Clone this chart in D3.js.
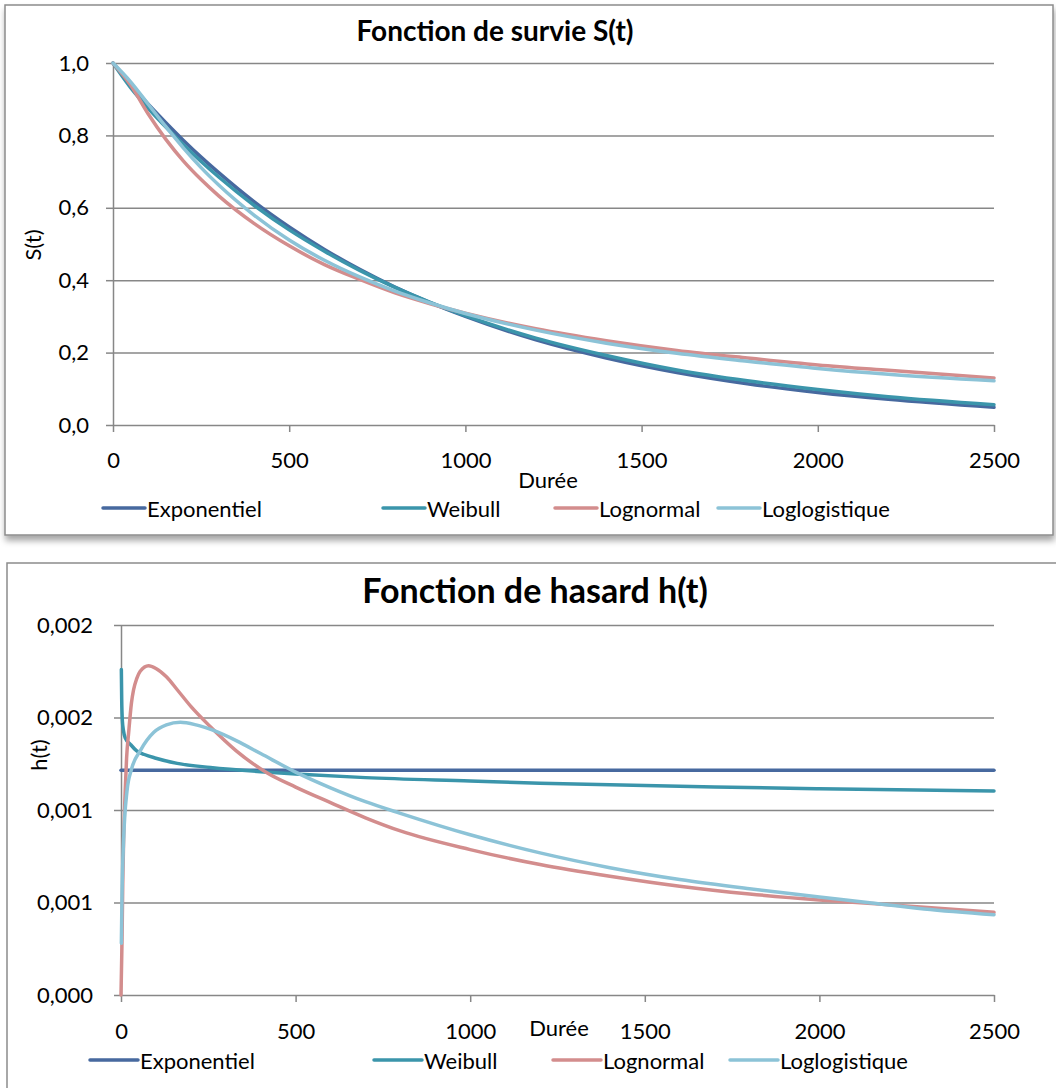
<!DOCTYPE html>
<html>
<head>
<meta charset="utf-8">
<script src="https://cdn.jsdelivr.net/npm/d3@7"></script>
<style>
  body { margin: 0; background: #fff; }
  svg text { font-family: Lato, "Open Sans", sans-serif; fill: #000; }
</style>
</head>
<body>
<div id="chart"></div>
<script>
// Noms des séries et couleurs
const seriesNames = ['Exponentiel', 'Weibull', 'Lognormal', 'Loglogistique'];
const seriesColors = ['#47699f', '#3b95ab', '#d38d8d', '#8cc3d7'];

// Fonction de survie S(t)
const survT = [0, 50, 100, 150, 200, 250, 300, 400, 500, 600, 700, 800, 900, 1000, 1200, 1400, 1600, 1800, 2000, 2200, 2500];
const survExpo = [1.000, 0.941, 0.886, 0.835, 0.786, 0.740, 0.697, 0.617, 0.547, 0.485, 0.430, 0.381, 0.338, 0.300, 0.235, 0.185, 0.145, 0.114, 0.090, 0.071, 0.049];
const survWeibull = [1.000, 0.932, 0.875, 0.823, 0.774, 0.728, 0.685, 0.607, 0.539, 0.480, 0.427, 0.380, 0.339, 0.302, 0.240, 0.192, 0.152, 0.122, 0.098, 0.078, 0.056];
const survLognormal = [1.000, 0.939, 0.859, 0.789, 0.729, 0.678, 0.633, 0.557, 0.495, 0.443, 0.402, 0.365, 0.335, 0.309, 0.266, 0.233, 0.206, 0.185, 0.166, 0.151, 0.130];
const survLoglog = [1.000, 0.948, 0.886, 0.824, 0.765, 0.711, 0.663, 0.580, 0.511, 0.455, 0.409, 0.370, 0.337, 0.308, 0.262, 0.226, 0.198, 0.176, 0.156, 0.140, 0.122];

// Fonction de hasard h(t) : paires [t, h]
const hazExpo = [[0, 0.001215], [500, 0.001215], [1000, 0.001215], [1500, 0.001215], [2000, 0.001215], [2500, 0.001215]];
const hazWeibull = [[1, 0.00176], [2, 0.00160], [4, 0.00148], [7, 0.00143], [12, 0.00139], [27, 0.001355], [45, 0.00132],
  [67, 0.00130], [100, 0.00128], [161, 0.001252], [256, 0.00123], [400, 0.001207], [500, 0.001195], [700, 0.001175],
  [1000, 0.001157], [1200, 0.001145], [1700, 0.001124], [2000, 0.001115], [2500, 0.001103]];
const hazLognormal = [[0, 0], [3, 0.0003], [5, 0.0006], [7.5, 0.00084], [12, 0.0011], [16, 0.00128], [22, 0.00142],
  [30, 0.00158], [36, 0.00165], [45, 0.00171], [55, 0.00175], [79, 0.00178], [100, 0.001765], [130, 0.00172],
  [161, 0.00165], [200, 0.00156], [256, 0.00145], [330, 0.00132], [419, 0.0012], [500, 0.001124], [600, 0.00104],
  [700, 0.000958], [800, 0.000887], [1000, 0.000786], [1200, 0.000705], [1400, 0.000642], [1600, 0.000588],
  [1800, 0.000546], [2000, 0.000514], [2150, 0.000495], [2300, 0.000474], [2500, 0.000447]];
const hazLoglog = [[1, 0.00028], [3, 0.00055], [7.5, 0.00084], [17, 0.0011], [30, 0.00122], [55, 0.00132], [94, 0.00142],
  [130, 0.00146], [170, 0.001474], [215, 0.00146], [265, 0.00143], [330, 0.001375], [400, 0.001305], [500, 0.001205],
  [600, 0.00112], [700, 0.001045], [800, 0.000982], [1000, 0.000866], [1200, 0.000768], [1400, 0.000688],
  [1600, 0.000624], [1800, 0.000574], [2000, 0.00053], [2150, 0.000497], [2300, 0.000465], [2500, 0.000434]];

// Graduations
const xTicks = [0, 500, 1000, 1500, 2000, 2500];
const xTickLabels = ['0', '500', '1000', '1500', '2000', '2500'];
const survYTicks = [0, 0.2, 0.4, 0.6, 0.8, 1.0];
const survYLabels = ['0,0', '0,2', '0,4', '0,6', '0,8', '1,0'];
const hazYTicks = [0, 0.0005, 0.001, 0.0015, 0.002];
const hazYLabels = ['0,000', '0,001', '0,001', '0,002', '0,002'];

const svg = d3.select('#chart')
    .append('svg')
    .attr('width', 1056)
    .attr('height', 1088);

const defs = svg.append('defs');
const shadow = defs.append('filter').attr('id', 'shadow')
    .attr('x', '-5%').attr('y', '-5%').attr('width', '110%').attr('height', '115%');
shadow.append('feDropShadow')
    .attr('dx', 1).attr('dy', 5).attr('stdDeviation', 3)
    .attr('flood-color', '#000').attr('flood-opacity', 0.35);

const gridColor = '#878787';

function drawPanel(p) {
    // cadre
    svg.append('rect')
        .attr('x', p.frame[0]).attr('y', p.frame[1])
        .attr('width', p.frame[2]).attr('height', p.frame[3])
        .attr('fill', '#fff').attr('stroke', '#8c8c8c').attr('stroke-width', 1.5)
        .attr('filter', p.shadow ? 'url(#shadow)' : null);

    const x = d3.scaleLinear().domain([0, 2500]).range([p.x0, p.x1]);
    const y = d3.scaleLinear().domain(p.yDomain).range([p.yBot, p.yTop]);

    // grille horizontale
    svg.append('g')
        .attr('transform', `translate(${p.x0},0)`)
        .call(d3.axisLeft(y).tickValues(p.yTicks.slice(1)).tickSize(-(p.x1 - p.x0)).tickFormat(''))
        .call(g => g.select('.domain').remove())
        .call(g => g.selectAll('line').attr('stroke', gridColor).attr('stroke-width', 1.5));

    // axe X
    svg.append('g')
        .attr('transform', `translate(0,${p.yBot})`)
        .call(d3.axisBottom(x).tickValues(xTicks).tickSize(7).tickSizeOuter(0).tickPadding(p.xPad)
            .tickFormat((d, i) => xTickLabels[i]))
        .call(g => g.select('.domain').attr('stroke', gridColor).attr('stroke-width', 1.5))
        .call(g => g.selectAll('line').attr('stroke', gridColor).attr('stroke-width', 1.5))
        .call(g => g.selectAll('text').attr('font-size', p.fs).attr('font-family', 'Lato, sans-serif'));

    // axe Y
    svg.append('g')
        .attr('transform', `translate(${p.x0},0)`)
        .call(d3.axisLeft(y).tickValues(p.yTicks).tickSize(7).tickSizeOuter(0).tickPadding(p.yPad)
            .tickFormat((d, i) => p.yLabels[i]))
        .call(g => g.select('.domain').attr('stroke', gridColor).attr('stroke-width', 1.5))
        .call(g => g.selectAll('line').attr('stroke', gridColor).attr('stroke-width', 1.5))
        .call(g => g.selectAll('text').attr('font-size', p.fs).attr('font-family', 'Lato, sans-serif'));

    // courbes
    const line = d3.line()
        .x(d => x(d[0]))
        .y(d => y(d[1]))
        .curve(d3.curveMonotoneX);

    p.series.forEach((s, i) => {
        svg.append('path')
            .datum(s)
            .attr('fill', 'none')
            .attr('stroke', seriesColors[i])
            .attr('stroke-width', 3.5)
            .attr('stroke-linejoin', 'round')
            .attr('stroke-linecap', 'round')
            .attr('d', line);
    });

    // titres
    svg.append('text')
        .attr('x', p.titleX).attr('y', p.titleY)
        .attr('text-anchor', 'middle')
        .attr('font-size', p.titleFs).attr('font-weight', 'bold')
        .text(p.title);

    svg.append('text')
        .attr('transform', `translate(${p.yTitleX},${p.yTitleY}) rotate(-90)`)
        .attr('text-anchor', 'middle')
        .attr('dominant-baseline', 'central')
        .attr('font-size', p.fs)
        .text(p.yTitle);

    svg.append('text')
        .attr('x', p.xTitleX).attr('y', p.xTitleY)
        .attr('text-anchor', 'middle')
        .attr('dominant-baseline', 'central')
        .attr('font-size', p.fs)
        .text('Durée');

    // légende
    seriesNames.forEach((name, i) => {
        const lx = p.legendX[i];
        svg.append('line')
            .attr('x1', lx).attr('x2', lx + p.legendLen)
            .attr('y1', p.legendY).attr('y2', p.legendY)
            .attr('stroke', seriesColors[i]).attr('stroke-width', 3.5)
            .attr('stroke-linecap', 'round');
        svg.append('text')
            .attr('x', lx + p.legendLen + 2).attr('y', p.legendY)
            .attr('dominant-baseline', 'central')
            .attr('font-size', p.fs)
            .text(name);
    });
}

drawPanel({
    frame: [5, 5, 1048, 530], shadow: true,
    x0: 113, x1: 994, yTop: 63, yBot: 425,
    yDomain: [0, 1], yTicks: survYTicks, yLabels: survYLabels,
    xPad: 20, yPad: 17, fs: 22,
    series: [
        survT.map((t, i) => [t, survExpo[i]]),
        survT.map((t, i) => [t, survWeibull[i]]),
        survT.map((t, i) => [t, survLognormal[i]]),
        survT.map((t, i) => [t, survLoglog[i]])
    ],
    title: 'Fonction de survie S(t)', titleX: 495, titleY: 41, titleFs: 28,
    yTitle: 'S(t)', yTitleX: 32, yTitleY: 245,
    xTitleX: 548, xTitleY: 479,
    legendX: [103, 383, 555, 718], legendLen: 42, legendY: 508
});

drawPanel({
    frame: [7, 563, 1100, 600], shadow: false,
    x0: 121, x1: 994, yTop: 625, yBot: 995,
    yDomain: [0, 0.002], yTicks: hazYTicks, yLabels: hazYLabels,
    xPad: 21, yPad: 21, fs: 22,
    series: [hazExpo, hazWeibull, hazLognormal, hazLoglog],
    title: 'Fonction de hasard h(t)', titleX: 535, titleY: 603, titleFs: 34,
    yTitle: 'h(t)', yTitleX: 38, yTitleY: 755,
    xTitleX: 559, xTitleY: 1027,
    legendX: [90, 374, 553, 730], legendLen: 48, legendY: 1060
});
</script>
</body>
</html>
